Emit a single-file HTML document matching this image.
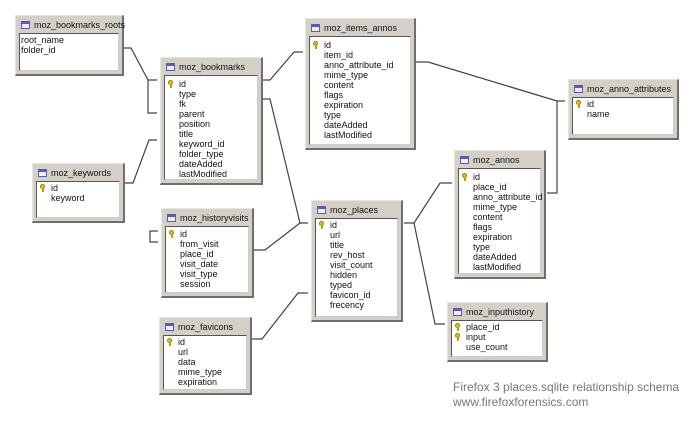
<!DOCTYPE html>
<html><head><meta charset="utf-8"><style>
body{margin:0;width:698px;height:427px;background:#fff;position:relative;overflow:hidden;font-family:"Liberation Sans",sans-serif;}
.b{position:absolute;background:#d4d0c8;border-top:1px solid #e8e6e0;border-left:1px solid #e8e6e0;border-right:2px solid #6e6e6e;border-bottom:2px solid #6e6e6e;box-sizing:border-box;}
.h{position:absolute;left:18px;top:4px;font-size:9px;color:#111;white-space:nowrap;}
.ic{position:absolute;left:5px;top:5px;width:9px;height:8px;background:#eef;border:1px solid #5a5ab0;border-top:3px solid #5a5ab0;box-sizing:border-box;}
.bd{position:absolute;left:3px;right:3px;top:17px;bottom:3px;background:#fff;border:1px solid #555;border-right-color:#ccc;border-bottom-color:#ccc;box-sizing:border-box;padding-top:1px;}
.r{height:10px;line-height:10px;font-size:9px;color:#111;padding-left:14px;position:relative;white-space:nowrap;}
.r.k::before{content:"";position:absolute;left:3px;top:1px;width:5px;height:5px;border-radius:50%;background:#e0c020;border:1px solid #a08000;box-sizing:border-box;}
.r.k::after{content:"";position:absolute;left:5px;top:5px;width:2px;height:4px;background:#c0a000;}
.np{padding-left:1px}
</style></head><body>
<svg width="698" height="427" style="position:absolute;left:0;top:0" fill="none" stroke="#444" stroke-width="1.2">
<path d="M124,48 H131 L148,80 H157 M148,80 V113 H157"/>
<path d="M125,183 H133 L149,140 H157"/>
<path d="M263,80 H270 L294,52 H303"/>
<path d="M263,99 H270 L300,223 H308"/>
<path d="M254,250 H265 L300,223"/>
<path d="M252,339 H262 L298,293 H308"/>
<path d="M404,223 H414 L440,183 H452"/>
<path d="M414,223 L435,324 H445"/>
<path d="M416,62 H428 L557,101 H565 M557,101 V193 H547"/>
<path d="M158,231 H150 V242 H158"/>
</svg>

<div class="b" style="left:15px;top:15px;width:109px;height:61px"><div class="ic"></div><div class="h">moz_bookmarks_roots</div><div class="bd"><div class="r np">root_name</div><div class="r np">folder_id</div></div></div>

<div class="b" style="left:160px;top:57px;width:103px;height:128px"><div class="ic"></div><div class="h">moz_bookmarks</div><div class="bd" style="padding-top:3px"><div class="r k">id</div><div class="r">type</div><div class="r">fk</div><div class="r">parent</div><div class="r">position</div><div class="r">title</div><div class="r">keyword_id</div><div class="r">folder_type</div><div class="r">dateAdded</div><div class="r">lastModified</div></div></div>

<div class="b" style="left:32px;top:163px;width:93px;height:60px"><div class="ic"></div><div class="h">moz_keywords</div><div class="bd"><div class="r k">id</div><div class="r">keyword</div></div></div>

<div class="b" style="left:305px;top:18px;width:111px;height:132px"><div class="ic"></div><div class="h">moz_items_annos</div><div class="bd" style="padding-top:3px"><div class="r k">id</div><div class="r">item_id</div><div class="r">anno_attribute_id</div><div class="r">mime_type</div><div class="r">content</div><div class="r">flags</div><div class="r">expiration</div><div class="r">type</div><div class="r">dateAdded</div><div class="r">lastModified</div></div></div>

<div class="b" style="left:568px;top:79px;width:111px;height:61px"><div class="ic"></div><div class="h">moz_anno_attributes</div><div class="bd"><div class="r k">id</div><div class="r">name</div></div></div>

<div class="b" style="left:454px;top:150px;width:92px;height:129px"><div class="ic"></div><div class="h">moz_annos</div><div class="bd" style="padding-top:3px"><div class="r k">id</div><div class="r">place_id</div><div class="r">anno_attribute_id</div><div class="r">mime_type</div><div class="r">content</div><div class="r">flags</div><div class="r">expiration</div><div class="r">type</div><div class="r">dateAdded</div><div class="r">lastModified</div></div></div>

<div class="b" style="left:161px;top:208px;width:93px;height:90px"><div class="ic"></div><div class="h">moz_historyvisits</div><div class="bd" style="padding-top:2px"><div class="r k">id</div><div class="r">from_visit</div><div class="r">place_id</div><div class="r">visit_date</div><div class="r">visit_type</div><div class="r">session</div></div></div>

<div class="b" style="left:311px;top:200px;width:92px;height:122px"><div class="ic"></div><div class="h">moz_places</div><div class="bd" style="padding-top:1px"><div class="r k">id</div><div class="r">url</div><div class="r">title</div><div class="r">rev_host</div><div class="r">visit_count</div><div class="r">hidden</div><div class="r">typed</div><div class="r">favicon_id</div><div class="r">frecency</div></div></div>

<div class="b" style="left:159px;top:317px;width:93px;height:78px"><div class="ic"></div><div class="h">moz_favicons</div><div class="bd" style="padding-top:1px"><div class="r k">id</div><div class="r">url</div><div class="r">data</div><div class="r">mime_type</div><div class="r">expiration</div></div></div>

<div class="b" style="left:447px;top:302px;width:101px;height:60px"><div class="ic"></div><div class="h">moz_inputhistory</div><div class="bd" style="padding-top:1px"><div class="r k">place_id</div><div class="r k">input</div><div class="r">use_count</div></div></div>

<div style="position:absolute;left:453px;top:380px;font-size:12px;line-height:15px;color:#777;white-space:nowrap">Firefox 3 places.sqlite relationship schema<br>www.firefoxforensics.com</div>
</body></html>
